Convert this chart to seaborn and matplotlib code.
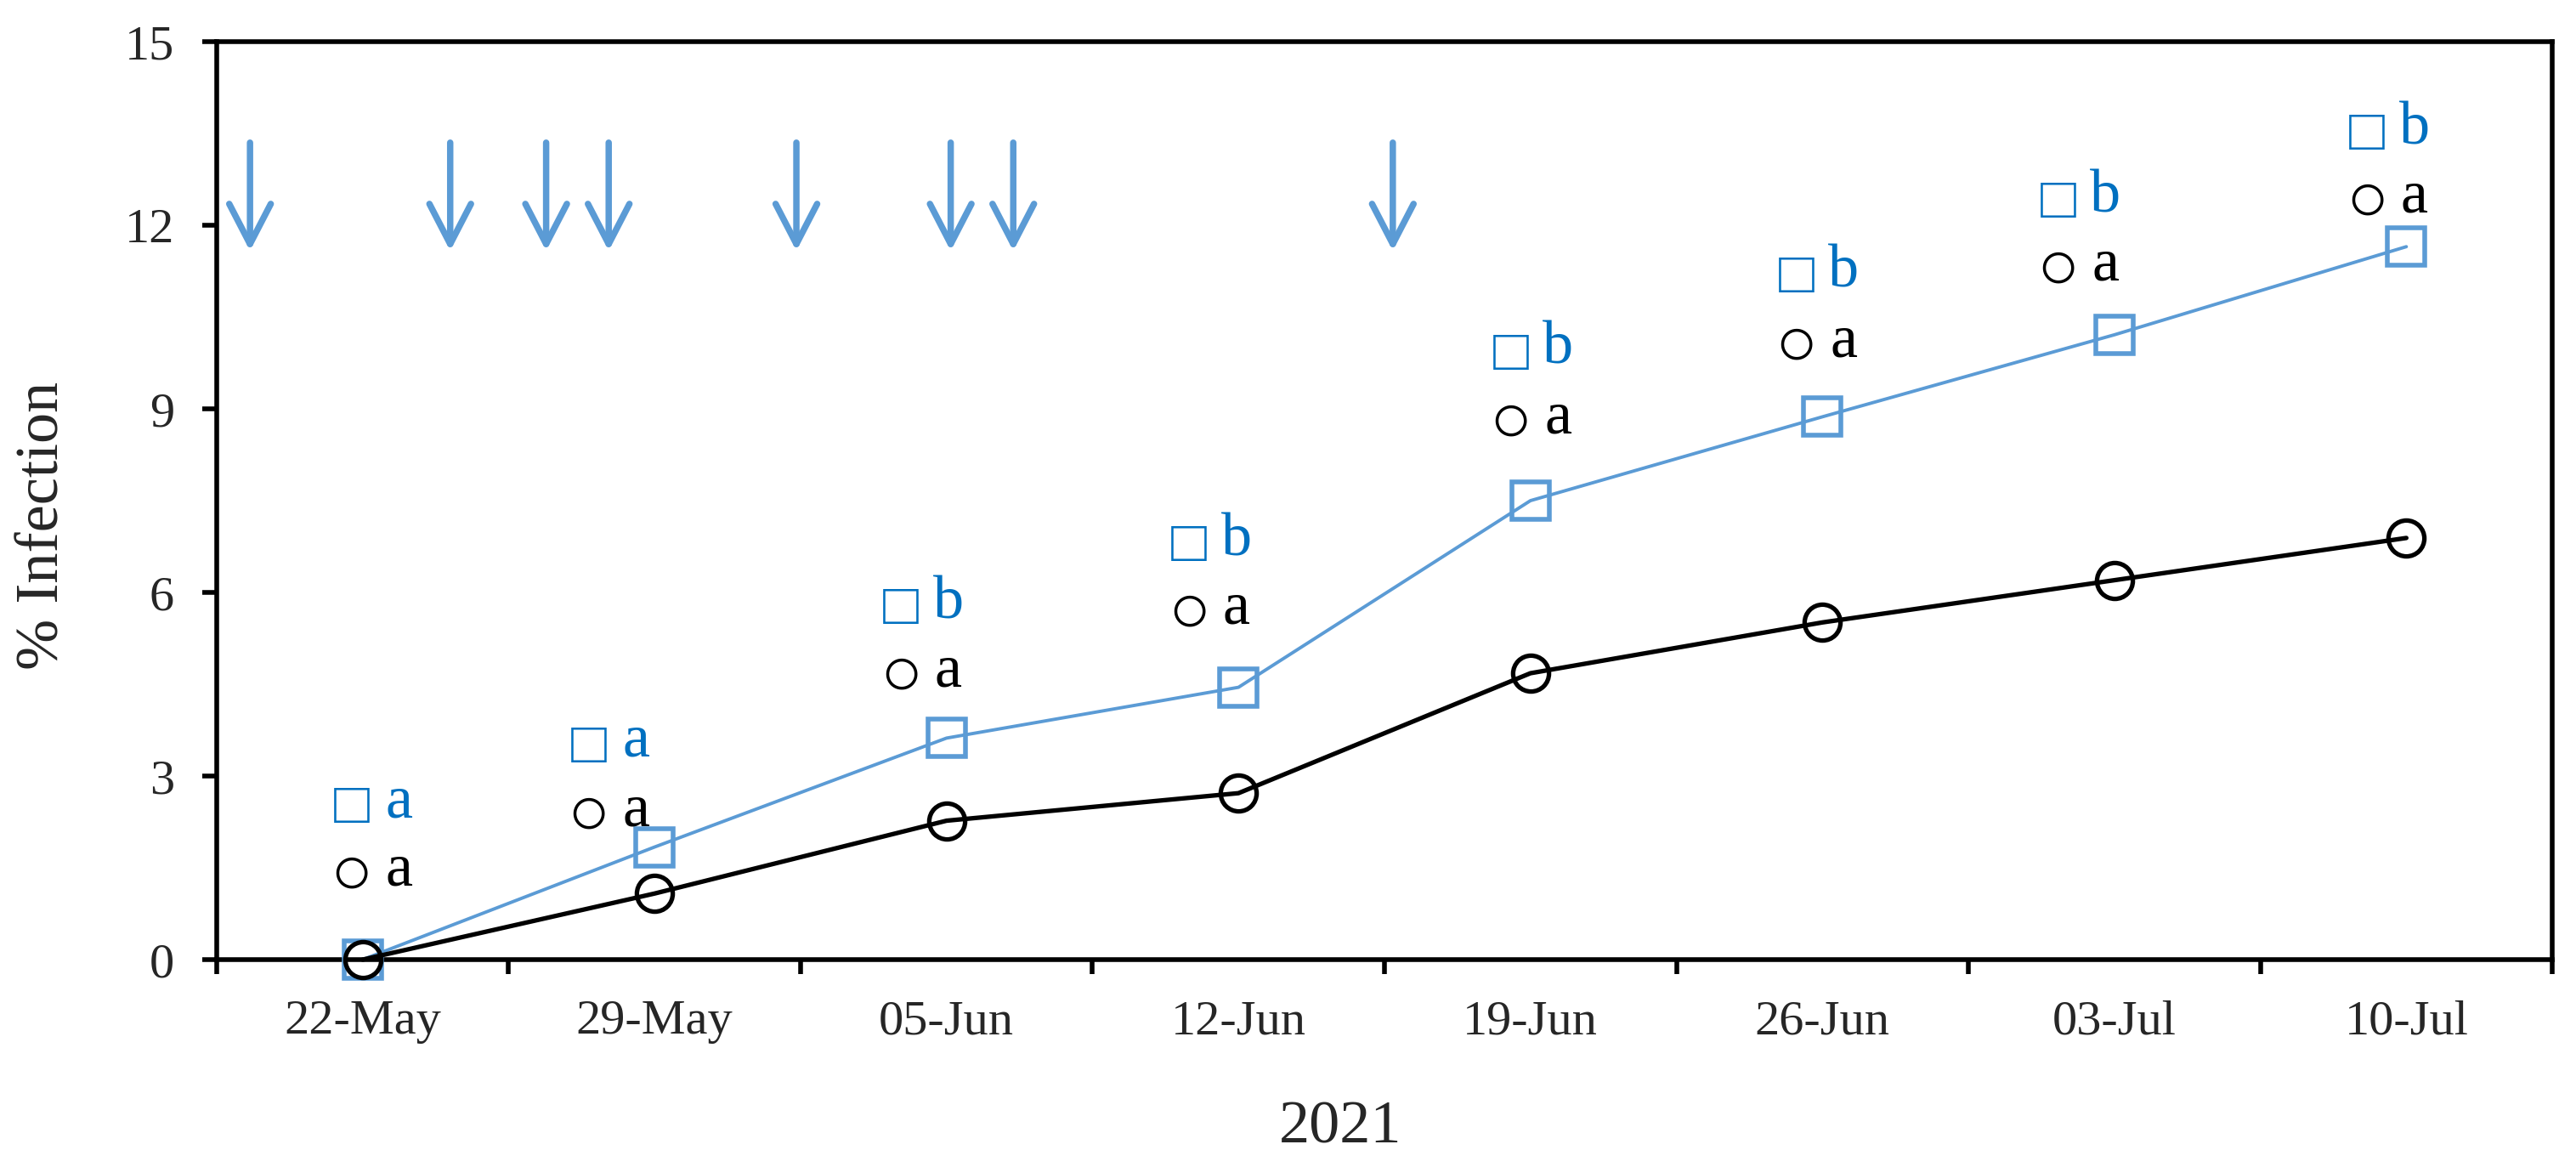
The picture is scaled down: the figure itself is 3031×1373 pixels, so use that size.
import numpy as np
import pandas as pd
import matplotlib
matplotlib.use("Agg")
import matplotlib.pyplot as plt
import seaborn as sns

# ---------------- data ----------------
dates = ["22-May", "29-May", "05-Jun", "12-Jun", "19-Jun", "26-Jun", "03-Jul", "10-Jul"]
black_vals = [0.0, 1.08, 2.27, 2.72, 4.68, 5.51, 6.20, 6.89]
blue_vals = [0.0, 1.84, 3.62, 4.45, 7.50, 8.87, 10.21, 11.65]
black_letters = ["a", "a", "a", "a", "a", "a", "a", "a"]
blue_letters = ["a", "a", "b", "b", "b", "b", "b", "b"]
# annotation placement (category offset of symbol centre, baselines in % units)
label_dx = [-0.038, -0.226, -0.156, -0.169, -0.067, -0.089, -0.192, -0.134]
blue_label_base = [2.33, 3.32, 5.58, 6.61, 9.74, 11.00, 12.22, 13.33]
black_label_base = [1.21, 2.19, 4.46, 5.49, 8.60, 9.86, 11.10, 12.21]
# application dates, days relative to 22-May
spray_days = [-2.7, 2.1, 4.4, 5.9, 10.4, 14.1, 15.6, 24.7]
yticks = [0, 3, 6, 9, 12, 15]

BLUE_LINE = "#5B9BD5"
BLUE_TEXT = "#0070C0"

sns.set_style("ticks")
plt.rcParams["font.family"] = ["Liberation Serif", "DejaVu Serif"]

fig = plt.figure(figsize=(15.155, 6.865), dpi=200)
ax = fig.add_axes([0.0841, 0.1777, 0.9908 - 0.0841, 0.9643 - 0.1777])

pos = np.arange(len(dates))
df = pd.DataFrame({"pos": np.concatenate([pos, pos]),
                   "val": blue_vals + black_vals,
                   "series": ["blue"] * len(pos) + ["black"] * len(pos)})

sns.lineplot(data=df[df.series == "blue"], x="pos", y="val", ax=ax,
             color=BLUE_LINE, lw=1.4, marker="s", markersize=15.5,
             markeredgewidth=2.0, markerfacecolor="none",
             markeredgecolor=BLUE_LINE, clip_on=False, zorder=3)
sns.lineplot(data=df[df.series == "black"], x="pos", y="val", ax=ax,
             color="black", lw=1.9, marker="o", markersize=15.2,
             markeredgewidth=1.9, markerfacecolor="none",
             markeredgecolor="black", clip_on=False, zorder=4)

# arrows for applications
for d in spray_days:
    xd = d / 7.0
    ax.annotate("", xy=(xd, 11.58), xytext=(xd, 13.35),
                arrowprops=dict(arrowstyle="->,head_length=17,head_width=8.8",
                                lw=2.7, color=BLUE_LINE, shrinkA=0, shrinkB=0,
                                mutation_scale=1))

# significance letters
sq_fs = 25
ci_fs = 30
let_fs = 26
for i in range(len(dates)):
    x = pos[i] + label_dx[i]
    ax.annotate("□", xy=(x, blue_label_base[i]), xytext=(0, -2.5),
                textcoords="offset points", ha="center", va="baseline",
                color=BLUE_TEXT, fontsize=sq_fs,
                family=["Liberation Serif", "DejaVu Sans"])
    ax.annotate(blue_letters[i], xy=(x, blue_label_base[i]), xytext=(20, 0),
                textcoords="offset points", ha="center", va="baseline",
                color=BLUE_TEXT, fontsize=let_fs)
    ax.annotate("○", xy=(x, black_label_base[i]), xytext=(0, -3.6),
                textcoords="offset points", ha="center", va="baseline",
                color="black", fontsize=ci_fs,
                family=["Liberation Serif", "DejaVu Sans"])
    ax.annotate(black_letters[i], xy=(x, black_label_base[i]), xytext=(20, 0),
                textcoords="offset points", ha="center", va="baseline",
                color="black", fontsize=let_fs)

ax.set_xlim(-0.5, len(dates) - 0.5)
ax.set_ylim(0, 15)
ax.set_yticks(yticks)
ax.set_xticks(pos)
ax.set_xticklabels(dates)
ax.set_xticks(np.arange(-0.5, len(dates), 1.0), minor=True)
ax.tick_params(axis="x", which="major", length=0, pad=17, labelsize=21)
ax.tick_params(axis="x", which="minor", length=6, width=2, direction="out", color="black")
ax.tick_params(axis="y", which="major", length=6, width=2, pad=12, labelsize=21,
               direction="out", color="black")
for s in ax.spines.values():
    s.set_visible(True)
    s.set_linewidth(2)
    s.set_color("black")

ax.set_ylabel("% Infection", fontsize=26, va="center")
ax.yaxis.set_label_coords(-0.0742, 0.473)
ax.set_xlabel("2021", fontsize=26, va="center")
ax.xaxis.set_label_coords(0.481, -0.183)

fig.savefig("out.png", dpi=200, facecolor="white")
